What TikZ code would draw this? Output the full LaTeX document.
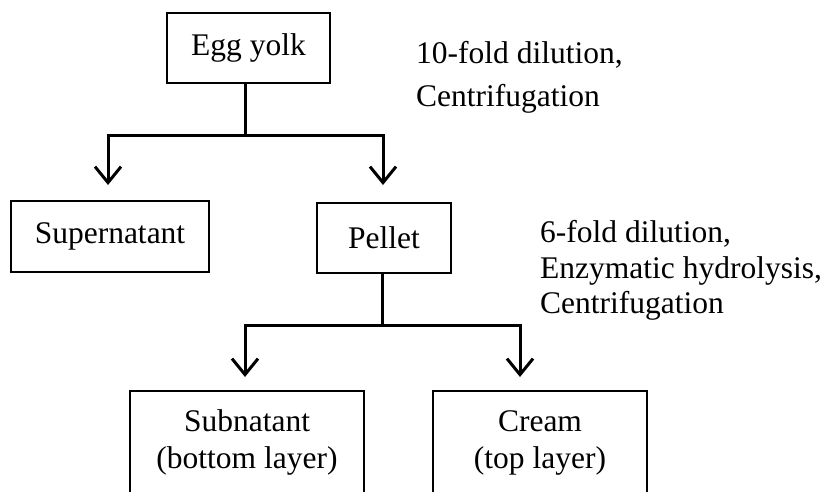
\documentclass[tikz,border=0pt]{standalone}
\usepackage{fontspec}
\setmainfont{Liberation Serif}
\usetikzlibrary{arrows.meta}
\begin{document}
\begin{tikzpicture}[x=1pt,y=-1pt,
  box/.style={draw,line width=1.8pt,inner sep=0pt,font=\fontsize{31.5}{37}\selectfont,align=center},
  note/.style={inner sep=0pt,align=left,anchor=north west},
  conn/.style={line width=3pt},
  arr/.style={conn,-{Straight Barb[length=16pt,width=26pt]}}]
\clip (0,0) rectangle (830,491);
\node[box,minimum width=163pt,minimum height=70pt] (egg) at (248.5,48) {Egg yolk};
\node[box,minimum width=198pt,minimum height=71pt] (sup) at (110,236.5) {Supernatant};
\node[box,minimum width=134pt,minimum height=70pt] (pel) at (384,238) {Pellet};
\node[box,minimum width=234pt,minimum height=104pt,anchor=north] (sub) at (247,390) {Subnatant\\(bottom layer)};
\node[box,minimum width=214pt,minimum height=104pt,anchor=north] (cre) at (540,390) {Cream\\(top layer)};
\coordinate (j1) at (245,135);
\coordinate (a1) at (108,185);
\coordinate (a2) at (383,185);
\coordinate (j2) at (382,325);
\coordinate (a3) at (245,377);
\coordinate (a4) at (520,377);
\draw[arr] (egg.south -| j1) -- (j1) -| (a1);
\draw[arr] (j1) -| (a2);
\draw[arr] (pel.south -| j2) -- (j2) -| (a3);
\draw[arr] (j2) -| (a4);
\node[note,font=\fontsize{31.5}{43}\selectfont] (n1) at (416,41.5) {10-fold dilution,\\Centrifugation};
\node[note,font=\fontsize{31.5}{35.5}\selectfont] (n2) at (540,220.5) {6-fold dilution,\\Enzymatic hydrolysis,\\Centrifugation};
\end{tikzpicture}
\end{document}
